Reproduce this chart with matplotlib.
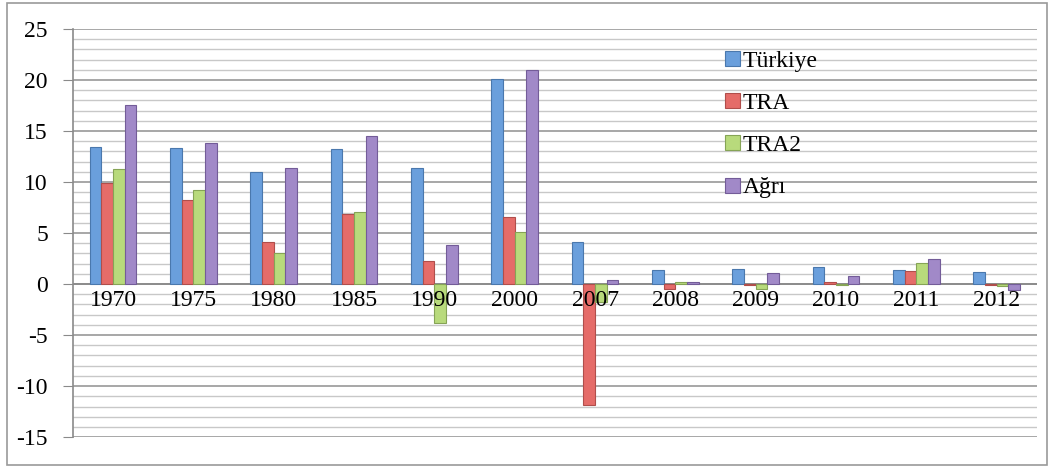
import numpy as np
import matplotlib.pyplot as plt
from matplotlib.patches import Rectangle

years = ['1970', '1975', '1980', '1985', '1990', '2000', '2007',
         '2008', '2009', '2010', '2011', '2012']
turkiye = [13.4, 13.3, 11.0, 13.2, 11.4, 20.1, 4.1, 1.35, 1.45, 1.65, 1.35, 1.2]
tra = [9.9, 8.2, 4.1, 6.9, 2.3, 6.6, -11.9, -0.5, -0.1, 0.2, 1.25, -0.05]
tra2 = [11.3, 9.2, 3.0, 7.1, -3.8, 5.1, -1.8, 0.25, -0.45, -0.1, 2.1, -0.15]
agri = [17.5, 13.8, 11.4, 14.5, 3.8, 21.0, 0.4, 0.25, 1.05, 0.8, 2.45, -0.6]

series = [turkiye, tra, tra2, agri]
labels = ['Türkiye', 'TRA', 'TRA2', 'Ağrı']
colors = ['#6a9fdc', '#e56c69', '#b8da7c', '#a189c8']
edges = ['#4a78ad', '#b04e4b', '#86a456', '#735c98']

plt.rcParams['font.family'] = ['Liberation Serif', 'DejaVu Serif']
plt.rcParams['axes.unicode_minus'] = False

fig = plt.figure(figsize=(10.5, 4.67), dpi=100)
ax = fig.add_axes([0.0695, 0.064, 0.918, 0.874])

# outer frame of the chart
fig.patches.append(Rectangle((0.007, 0.004), 0.99, 0.99, transform=fig.transFigure,
                             fill=False, edgecolor='#9a9a9a', lw=1.2))

x = np.arange(len(years)) + 0.5
w = 0.145
for i, vals in enumerate(series):
    ax.bar(x + (i - 1.5) * w, vals, w, color=colors[i], edgecolor=edges[i],
           linewidth=0.8, label=labels[i], zorder=3)

ax.set_xlim(0, len(years))
ax.set_ylim(-15, 25)
ax.set_yticks(range(-15, 26, 5))
ax.set_yticks(range(-15, 26, 1), minor=True)
ax.grid(axis='y', which='major', color='#a0a0a0', lw=1.3, zorder=0)
ax.grid(axis='y', which='minor', color='#c8c8c8', lw=1.0, zorder=0)
ax.tick_params(axis='y', which='major', length=7, color='#8a8a8a', labelsize=17, pad=11)
ax.tick_params(axis='y', which='minor', length=0)
ax.set_xticks([])
for s in ['top', 'right', 'bottom']:
    ax.spines[s].set_visible(False)
ax.spines['left'].set_color('#8a8a8a')
ax.spines['left'].set_linewidth(1.2)
ax.axhline(0, color='#8a8a8a', lw=1.3, zorder=2)

for xi, yr in zip(x, years):
    ax.text(xi, -0.6, yr, ha='center', va='top', fontsize=17, zorder=4)

ax.legend(loc='upper left', bbox_to_anchor=(0.667, 0.97), frameon=False,
          fontsize=17, handlelength=0.6, handleheight=0.6, handletextpad=0.15,
          labelspacing=0.9, borderaxespad=0)

plt.savefig('out.png', dpi=100)
